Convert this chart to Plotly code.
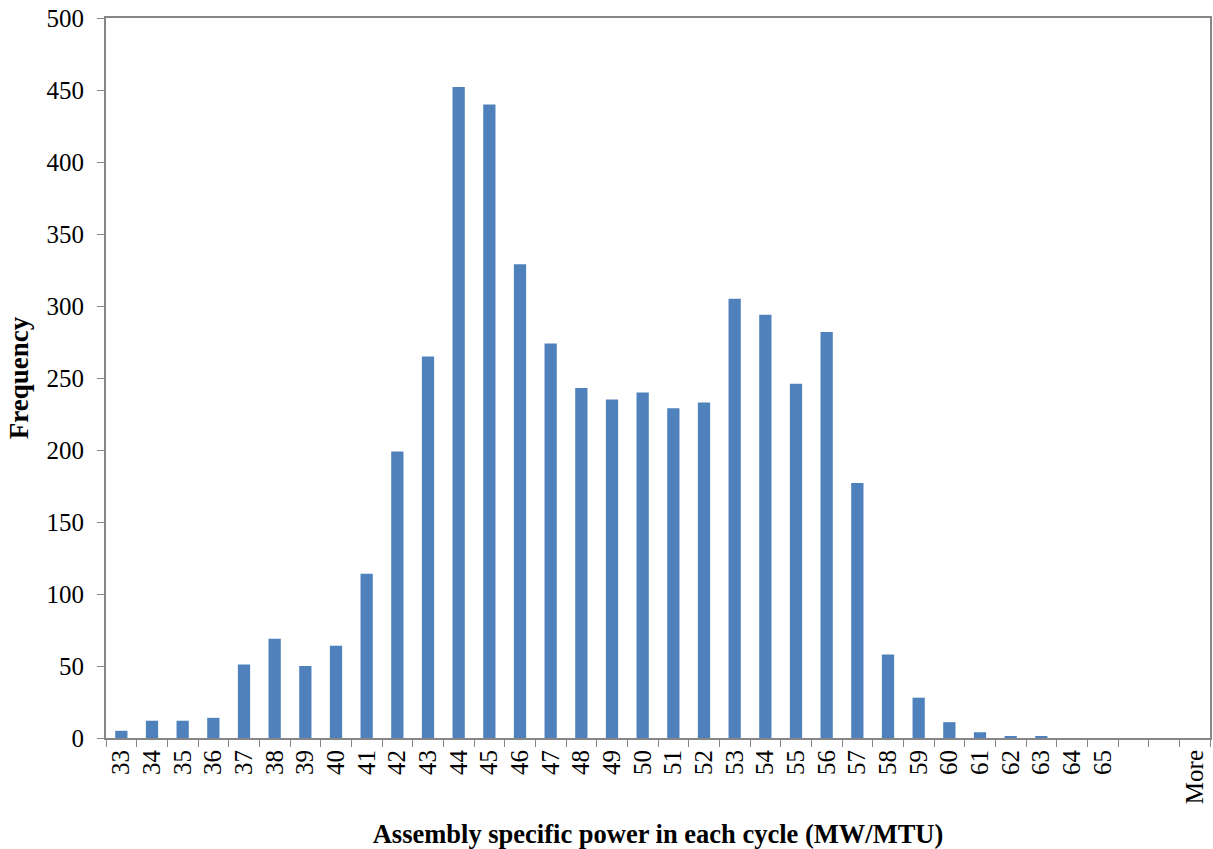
import plotly.graph_objects as go

# bins as shown on the category axis (two unlabeled bins before "More")
bins = [str(b) for b in range(33, 66)] + [" ", "  ", "More"]
freq = [5, 12, 12, 14, 51, 69, 50, 64, 114, 199, 265, 452, 440, 329, 274, 243,
        235, 240, 229, 233, 305, 294, 246, 282, 177, 58, 28, 11, 4, 1, 1, 0, 0,
        0, 0, 0]

FONT = "Liberation Serif, Times New Roman, serif"
AXIS_GREY = "#868686"

fig = go.Figure()
fig.add_trace(go.Bar(
    x=bins, y=freq,
    marker=dict(color="#4F81BD", line=dict(width=0)),
    showlegend=False,
))

fig.update_layout(
    width=1213, height=849,
    paper_bgcolor="white", plot_bgcolor="white",
    margin=dict(l=106, r=1, t=18, b=111),
    bargap=0.6,
    font=dict(family=FONT, size=25, color="black"),
)
fig.update_xaxes(
    type="category",
    tickangle=-90,
    ticks="outside", ticklen=7, tickcolor=AXIS_GREY, tickson="boundaries",
    showline=True, linecolor=AXIS_GREY, linewidth=2, mirror=True,
    showgrid=False,
    tickfont=dict(family=FONT, size=25),
    title=dict(text="<b>Assembly specific power in each cycle (MW/MTU)</b>",
               font=dict(family=FONT, size=26.5), standoff=22),
)
fig.update_yaxes(
    range=[0, 500], dtick=50,
    ticks="outside", ticklen=7, tickcolor=AXIS_GREY, ticklabelstandoff=8,
    showline=True, linecolor=AXIS_GREY, linewidth=2, mirror=True,
    showgrid=False, zeroline=False,
    tickfont=dict(family=FONT, size=25),
    title=dict(text="<b>Frequency</b>", font=dict(family=FONT, size=27), standoff=10),
)

# drop the browser's default body margin so the figure sits at the page origin
fig.write_html("out.html", config={"displayModeBar": False},
               post_script="document.body.style.margin='0';document.body.style.overflow='hidden';")
